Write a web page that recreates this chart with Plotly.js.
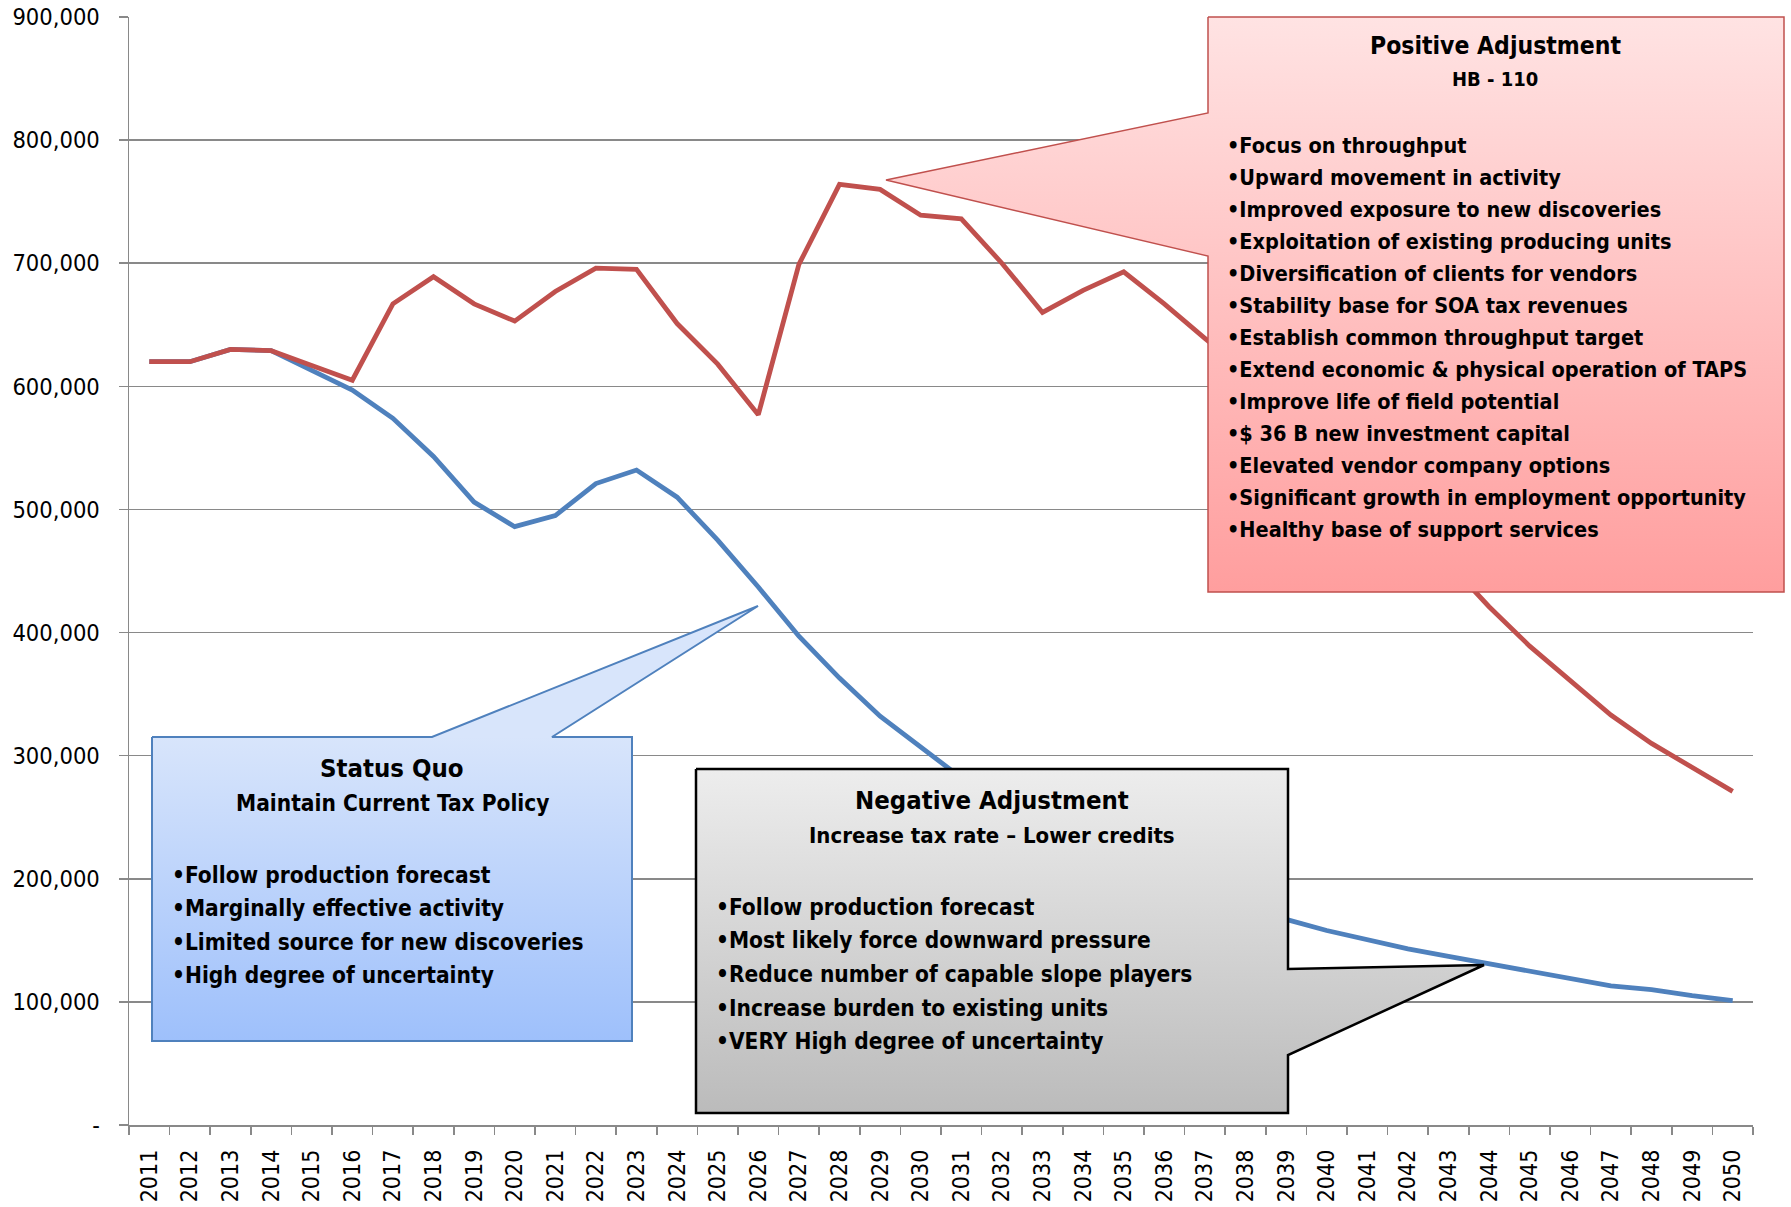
<!DOCTYPE html>
<html>
<head>
<meta charset="utf-8">
<script src="https://cdn.plot.ly/plotly-3.0.1.min.js"></script>
<style>
html,body{margin:0;padding:0;background:#ffffff;}
#chart{width:1791px;height:1207px;}
</style>
</head>
<body>
<div id="chart"></div>
<script>
// ---------------- DATA ----------------
const years = ['2011','2012','2013','2014','2015','2016','2017','2018','2019','2020',
               '2021','2022','2023','2024','2025','2026','2027','2028','2029','2030',
               '2031','2032','2033','2034','2035','2036','2037','2038','2039','2040',
               '2041','2042','2043','2044','2045','2046','2047','2048','2049','2050'];

// Status Quo (blue)
const statusQuo = [620000,620000,630000,629000,613000,597000,574000,543000,506000,486000,
                   495000,521000,532000,510000,475000,437000,397000,363000,332000,307000,
                   282000,261000,243000,227000,213000,200000,188000,177000,167000,158000,
                   150000,143000,137000,131000,125000,119000,113000,110000,105000,101000];

// Positive Adjustment HB-110 (red)
const positiveAdj = [620000,620000,630000,629000,617000,605000,667000,689000,667000,653000,
                     677000,696000,695000,651000,618000,577000,699000,764000,760000,739000,
                     736000,700000,660000,678000,693000,667000,639000,612000,585000,556000,
                     525000,492000,457000,421000,389000,361000,333000,310000,291000,271000];

const yTickVals = [0,100000,200000,300000,400000,500000,600000,700000,800000,900000];
const yTickText = ['-','100,000','200,000','300,000','400,000','500,000','600,000','700,000','800,000','900,000'];

// Callout texts
const posTitle = 'Positive Adjustment';
const posSub = 'HB - 110';
const posBullets = ['•Focus on throughput','•Upward movement in activity','•Improved exposure to new discoveries',
  '•Exploitation of existing producing units','•Diversification of clients for vendors',
  '•Stability base for SOA tax revenues','•Establish common throughput target',
  '•Extend economic & physical operation of TAPS','•Improve life of field potential',
  '•$ 36 B new investment capital','•Elevated vendor company options',
  '•Significant growth in employment opportunity','•Healthy base of support services'];

const sqTitle = 'Status Quo';
const sqSub = 'Maintain Current Tax Policy';
const sqBullets = ['•Follow production forecast','•Marginally effective activity',
  '•Limited source for new discoveries','•High degree of uncertainty'];

const negTitle = 'Negative Adjustment';
const negSub = 'Increase tax rate – Lower credits';
const negBullets = ['•Follow production forecast','•Most likely force downward pressure',
  '•Reduce number of capable slope players','•Increase burden to existing units',
  '•VERY High degree of uncertainty'];

// ---------------- LAYOUT ----------------
const W = 1791, H = 1207;
const plotL = 129, plotR = 1753, plotT = 17, plotB = 1125;
const FONT = 'DejaVu Sans Condensed, DejaVu Sans, sans-serif';
const RED = '#C0504D', BLUE = '#4F81BD', GRID = '#898989';

const traces = [
  {type:'scatter', mode:'lines', x:years, y:statusQuo, xaxis:'x', yaxis:'y',
   line:{color:BLUE, width:4.8}, hoverinfo:'skip', showlegend:false},
  {type:'scatter', mode:'lines', x:years, y:positiveAdj, xaxis:'x', yaxis:'y',
   line:{color:RED, width:4.8}, hoverinfo:'skip', showlegend:false}
];

// callout shapes (pixel coordinates on overlay axes)
function callout(xs, ys, top, bottom, c0, c1, lc, lw){
  return {type:'scatter', mode:'lines', x:xs, y:ys, xaxis:'x2', yaxis:'y2',
    fill:'toself',
    fillgradient:{type:'vertical', colorscale:[[0,c0],[1,c1]], start:top, stop:bottom},
    line:{color:lc, width:lw}, hoverinfo:'skip', showlegend:false};
}
// Positive (pink)
traces.push(callout(
  [1208,1784,1784,1208,1208,886,1208,1208],
  [17,17,592,592,256,180,113,17],
  17, 592, '#FFE3E3', '#FF9E9E', RED, 1.5));
// Status Quo (blue)
traces.push(callout(
  [152,432,758,552,632,632,152,152],
  [737,737,606,737,737,1041,1041,737],
  737, 1041, '#D8E5FB', '#9EC0FB', BLUE, 2));
// Negative (gray)
traces.push(callout(
  [696,1288,1288,1484,1288,1288,696,696],
  [769,769,969,965,1055,1113,1113,769],
  769, 1113, '#EDEDED', '#BBBBBB', '#000000', 2.5));

const annotations = [];
function txt(x, y, text, size, anchor){
  annotations.push({xref:'x2', yref:'y2', x:x, y:y, text:text, showarrow:false,
    xanchor:anchor, yanchor:'middle', borderpad:0,
    font:{family:FONT, size:size, color:'#000000', weight:'bold'}});
}
// Positive
txt(1495, 45.5, posTitle, 24.5, 'center');
txt(1495, 78.5, posSub, 20, 'center');
posBullets.forEach((b,i)=>txt(1226, 145.5 + i*32, b, 21.5, 'left'));
// Status quo
txt(392, 768, sqTitle, 25.5, 'center');
txt(392, 803, sqSub, 22.5, 'center');
sqBullets.forEach((b,i)=>txt(171, 874.5 + i*33.6, b, 22.5, 'left'));
// Negative
txt(992, 799.5, negTitle, 25.5, 'center');
txt(992, 835, negSub, 22, 'center');
negBullets.forEach((b,i)=>txt(715, 906.8 + i*33.65, b, 22.5, 'left'));

const layout = {
  width:W, height:H,
  margin:{l:0,r:0,t:0,b:0,pad:0},
  paper_bgcolor:'#ffffff', plot_bgcolor:'rgba(0,0,0,0)',
  showlegend:false,
  xaxis:{type:'category', domain:[plotL/W, plotR/W], range:[-0.5, years.length-0.5],
    anchor:'y', tickson:'boundaries', ticks:'outside', ticklen:8, tickwidth:1.5, tickcolor:GRID,
    showline:true, linecolor:GRID, linewidth:1.5, showgrid:false, zeroline:false,
    tickangle:-90, ticklabelstandoff:14,
    tickfont:{family:FONT, size:23, color:'#000000'}, automargin:false, fixedrange:true},
  yaxis:{domain:[1-plotB/H, 1-plotT/H], range:[0,900000], anchor:'x',
    tickmode:'array', tickvals:yTickVals, ticktext:yTickText,
    ticks:'outside', ticklen:9, tickwidth:1.5, tickcolor:GRID,
    showline:true, linecolor:GRID, linewidth:1.5,
    showgrid:true, gridcolor:GRID, gridwidth:1.5, zeroline:false, ticklabelstandoff:14,
    tickfont:{family:FONT, size:23.5, color:'#000000'}, automargin:false, fixedrange:true},
  xaxis2:{domain:[0,1], range:[0,W], anchor:'y2', visible:false, fixedrange:true},
  yaxis2:{domain:[0,1], range:[H,0], anchor:'x2', visible:false, fixedrange:true},
  annotations:annotations
};

Plotly.newPlot('chart', traces, layout, {staticPlot:true, displayModeBar:false});
</script>
</body>
</html>
